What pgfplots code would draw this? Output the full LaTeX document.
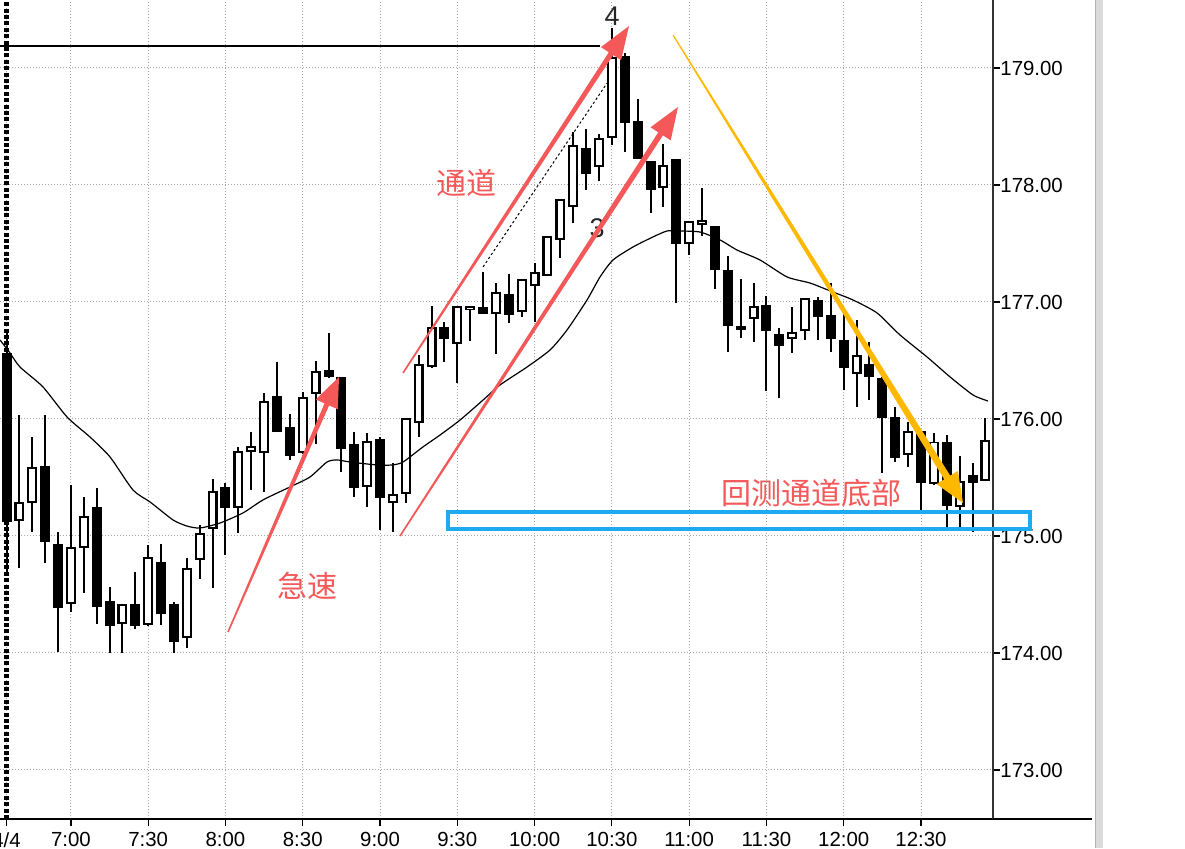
\documentclass[border=0pt]{standalone}
\usepackage{pgfplots}
\pgfplotsset{compat=1.18}
\usepackage{pgfplotstable}
\usepackage{fontspec}
\setmainfont{Liberation Sans}
\newfontfamily\cjk{Noto Sans CJK SC}
\definecolor{annred}{RGB}{244,88,88}
\definecolor{annorange}{RGB}{255,184,0}
\definecolor{annblue}{RGB}{28,170,240}

\pgfplotstableread{
i o h l c
0 176.56 176.74 174.67 175.13
1 175.14 176.03 174.73 175.28
2 175.29 175.85 175.03 175.58
3 175.59 176.03 174.77 174.96
4 174.92 175.03 174.01 174.39
5 174.43 175.44 174.35 174.90
6 174.91 175.33 174.51 175.16
7 175.24 175.41 174.25 174.40
8 174.44 174.56 174.00 174.24
9 174.26 174.41 174.00 174.41
10 174.41 174.69 174.21 174.24
11 174.25 174.92 174.23 174.81
12 174.77 174.93 174.24 174.34
13 174.41 174.44 174.00 174.10
14 174.14 174.81 174.04 174.72
15 174.80 175.09 174.63 175.02
16 175.07 175.49 174.56 175.38
17 175.41 175.45 174.84 175.25
18 175.25 175.76 175.03 175.72
19 175.73 175.89 175.39 175.76
20 175.72 176.22 175.38 176.15
21 176.19 176.49 175.89 175.90
22 175.92 176.04 175.65 175.69
23 175.72 176.23 175.70 176.18
24 176.22 176.50 175.79 176.40
25 176.41 176.74 176.35 176.37
26 176.35 176.36 175.55 175.75
27 175.78 175.89 175.33 175.42
28 175.43 175.88 175.25 175.80
29 175.82 175.85 175.05 175.33
30 175.29 175.62 175.03 175.35
31 175.37 176.00 175.28 176.00
32 175.97 176.55 175.85 176.46
33 176.45 176.97 176.44 176.78
34 176.78 176.83 176.49 176.69
35 176.65 176.96 176.31 176.96
36 176.94 176.97 176.67 176.96
37 176.95 177.26 176.90 176.91
38 176.91 177.16 176.56 177.08
39 177.06 177.24 176.82 176.90
40 176.92 177.20 176.87 177.19
41 177.15 177.33 176.83 177.25
42 177.23 177.56 177.22 177.56
43 177.54 177.88 177.38 177.87
44 177.82 178.45 177.68 178.33
45 178.31 178.48 177.96 178.10
46 178.16 178.44 178.03 178.39
47 178.41 179.34 178.34 179.09
48 179.09 179.13 178.28 178.54
49 178.54 178.74 178.22 178.23
50 178.20 178.20 177.76 177.97
51 177.98 178.35 177.81 178.16
52 178.21 178.22 176.99 177.50
53 177.50 177.69 177.40 177.68
54 177.67 177.97 177.56 177.69
55 177.64 177.65 177.11 177.28
56 177.27 177.39 176.57 176.80
57 176.79 177.20 176.69 176.77
58 176.86 177.16 176.66 176.96
59 176.97 177.05 176.24 176.76
60 176.72 176.78 176.18 176.63
61 176.69 176.96 176.56 176.74
62 176.76 177.03 176.68 177.03
63 177.01 177.04 176.68 176.88
64 176.88 177.16 176.57 176.69
65 176.67 176.91 176.25 176.44
66 176.39 176.85 176.10 176.54
67 176.46 176.66 176.16 176.37
68 176.34 176.36 175.54 176.02
69 176.01 176.10 175.63 175.68
70 175.70 175.97 175.59 175.89
71 175.89 175.89 175.22 175.46
72 175.45 175.88 175.44 175.80
73 175.80 175.86 175.08 175.27
74 175.26 175.68 175.08 175.46
75 175.51 175.62 175.03 175.46
76 175.48 176.01 175.47 175.81
}\candles

\pgfplotstableread{
i v
-0.5 176.675
0.27 176.564
1.05 176.444
2.83 176.274
4.70 176.017
6.48 175.846
8.04 175.675
9.82 175.393
11.14 175.291
12.93 175.137
14.01 175.085
15.02 175.068
16.58 175.111
18.36 175.197
19.91 175.308
22.01 175.419
23.56 175.504
24.88 175.632
25.66 175.650
26.67 175.632
28.77 175.607
29.93 175.607
30.78 175.632
32.33 175.761
33.66 175.863
35.21 175.991
37.00 176.162
38.32 176.291
40.41 176.444
42.20 176.590
43.52 176.761
45.07 177.017
46.08 177.214
47.09 177.359
48.64 177.470
50.19 177.556
51.28 177.607
52.06 177.607
53.84 177.598
55.40 177.530
56.72 177.444
58.50 177.359
60.60 177.214
62.38 177.162
64.17 177.085
65.72 177.017
67.59 176.906
69.37 176.718
71.47 176.530
73.26 176.359
75.04 176.205
76.20 176.154
}\ma

\begin{document}
\begin{tikzpicture}
\begin{axis}[
  at={(0pt,0pt)}, anchor=south west,
  scale only axis, width=496.5pt, height=409.5pt,
  xmin=-0.505, xmax=76.59, ymin=172.581, ymax=179.581,
  clip=false,
  axis x line*=bottom, axis y line*=right,
  x axis line style={black, line width=1pt},
  y axis line style={black!80, line width=0.75pt},
  xtick={0,5,11,17,23,29,35,41,47,53,59,65,71},
  xticklabels={4/4,7:00,7:30,8:00,8:30,9:00,9:30,10:00,10:30,11:00,11:30,12:00,12:30},
  ytick={173,174,175,176,177,178,179},
  yticklabels={173.00,174.00,175.00,176.00,177.00,178.00,179.00},
  tick align=outside, major tick length=3.5pt,
  tick style={black, line width=0.6pt},
  grid=major,
  major grid style={gray!70, line width=0.5pt, dash pattern=on 0.5pt off 1pt},
  tick label style={font=\fontsize{10.2}{12}\selectfont},
  xticklabel style={anchor=north, inner sep=0pt, yshift=-3pt},
  yticklabel style={anchor=west, inner sep=0pt},
  /pgf/number format/assume math mode=true,
]
% day separator
\addplot[black, line width=2.2pt, dash pattern=on 2pt off 1.2pt] coordinates {(0,172.581) (0,179.581)};
% wicks
\addplot[draw=none, mark=none,
  error bars/.cd, y dir=both, y explicit, error mark=none,
  error bar style={draw=black, solid, line width=1pt}]
  table[x=i, y expr={(\thisrow{h}+\thisrow{l})/2}, y error expr={(\thisrow{h}-\thisrow{l})/2}] {\candles};
% bodies (outer black)
\addplot[draw=none, mark=none,
  error bars/.cd, y dir=both, y explicit, error mark=none,
  error bar style={draw=black, solid, line width=5pt}]
  table[x=i, y expr={(\thisrow{o}+\thisrow{c})/2}, y error expr={abs(\thisrow{o}-\thisrow{c})/2+0.0085}] {\candles};
% bodies (inner white for rising candles)
\addplot[draw=none, mark=none,
  error bars/.cd, y dir=both, y explicit, error mark=none,
  error bar style={draw=white, solid, line width=2.8pt}]
  table[x=i, y expr={(\thisrow{o}+\thisrow{c})/2}, y error expr={(\thisrow{c}>\thisrow{o})*max((\thisrow{c}-\thisrow{o})/2-0.0085,0)}] {\candles};
% moving average
\addplot[black, line width=0.6pt, smooth, tension=0.4] table[x=i, y=v] {\ma};
% horizontal level
\addplot[black, line width=1pt] coordinates {(-0.505,179.19) (46.1,179.19)};
% dotted trend line
\addplot[black, line width=0.5pt, dash pattern=on 1.2pt off 1.2pt] coordinates {(37.0,177.30) (46.62,178.87)};
% wave labels
\node[text=black!85, font=\fontsize{13.5}{14}\selectfont] at (axis cs:47.01,179.444) {4};
\node[text=black!85, font=\fontsize{13.5}{14}\selectfont] at (axis cs:45.85,177.632) {3};
% red arrows
\addplot[fill=annred, draw=none] coordinates {(17.254,174.1768) (25.047,176.116) (25.722,176.083) (25.815,176.359) (24.014,176.167) (24.690,176.133) (17.141,174.182)} --cycle;
\addplot[fill=annred, draw=none] coordinates {(30.836,176.3894) (47.102,179.1105) (47.714,179.0667) (48.331,179.359) (46.151,179.1786) (46.763,179.1348) (30.732,176.3969)} --cycle;
\addplot[fill=annred, draw=none] coordinates {(30.603,174.9962) (50.967,178.4242) (51.566,178.3814) (52.135,178.6667) (50.002,178.4930) (50.602,178.4502) (30.499,175.0036)} --cycle;
% orange arrow
\addplot[fill=annorange, draw=none] coordinates {(51.707,179.2794) (72.805,175.4842) (72.211,175.4437) (74.262,175.2821) (73.861,175.5562) (73.267,175.5158) (51.786,179.2848)} --cycle;
% blue box
\addplot[draw=annblue, line width=2pt] coordinates {(34.28,175.209) (79.46,175.209) (79.46,175.056) (34.28,175.056)} --cycle;
% annotations text
\node[text=annred, font=\cjk\fontsize{15}{15}\selectfont] at (axis cs:35.68,178.017) {通道};
\node[text=annred, font=\cjk\fontsize{15}{15}\selectfont] at (axis cs:23.33,174.573) {急速};
\node[text=annred, font=\cjk\fontsize{15}{15}\selectfont] at (axis cs:62.50,175.363) {回测通道底部};
\end{axis}
% bottom line extension and scrollbar
\draw[black, line width=1pt] (496.5pt,0pt) -- (546pt,0pt);
\fill[black!14] (547.5pt,-14.5pt) rectangle (551.5pt,409.5pt);
\draw[black!30, line width=0.4pt] (547.5pt,-14.5pt) -- (547.5pt,409.5pt);
\pgfresetboundingbox
\useasboundingbox (0pt,-14.5pt) rectangle (592.5pt,409.5pt);
\end{tikzpicture}
\end{document}
